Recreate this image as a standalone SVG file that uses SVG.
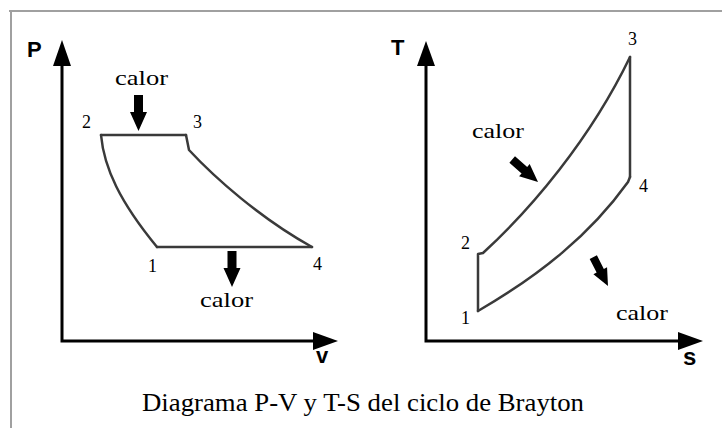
<svg xmlns="http://www.w3.org/2000/svg" width="722" height="428" viewBox="0 0 722 428">
<style>
.frame{stroke:#a0a0a0;stroke-width:2;fill:none}
.axis{stroke:#000;stroke-width:3;fill:none}
.cyc{stroke:#3a3a3a;stroke-width:2.5;fill:none;stroke-linejoin:round;stroke-linecap:round}
.ax{font-family:"Liberation Sans",Arial,sans-serif;font-weight:bold;fill:#000}
.lbl{font-family:"Liberation Serif","Times New Roman",serif;font-size:21px;fill:#000}
.num{font-family:"Liberation Serif","Times New Roman",serif;font-size:18px;fill:#000}
.cap{font-family:"Liberation Serif","Times New Roman",serif;font-size:25px;fill:#000}
.head{fill:#000}
</style>
<defs>
<path id="fat" d="M-4.5,-36 L4.5,-36 L4.5,-19 L8.5,-19 L0,0 L-8.5,-19 L-4.5,-19 Z" fill="#000"/>
</defs>
<rect width="722" height="428" fill="#fff"/>
<path class="frame" d="M9,11 L722,11 M11,11 L11,428"/>
<g id="axes">
<path class="axis" d="M62,64 L62,341 L314,341"/>
<polygon class="head" points="62,40 53,66 71,66"/>
<polygon class="head" points="338,341 313,332 313,350"/>
<text class="ax" x="27" y="57" font-size="22">P</text>
<text class="ax" x="316" y="363" font-size="22">v</text>
<path class="axis" d="M426,64 L426,341 L680,341"/>
<polygon class="head" points="426,41 417,66 435,66"/>
<polygon class="head" points="703,341 678,332 678,350"/>
<text class="ax" x="391" y="55" font-size="22">T</text>
<text class="ax" x="683" y="365" font-size="24">s</text>
</g>
<g id="pv-cycle">
<path class="cyc" d="M101,135 L186,135"/>
<path class="cyc" d="M101,135 C104,168 120,202 157,247"/>
<path class="cyc" d="M157,247 L312,247"/>
<path class="cyc" d="M186,135 L189,150 C215,178 260,218 312,247"/>
<text class="num" x="82" y="128">2</text>
<text class="num" x="193" y="128">3</text>
<text class="num" x="148" y="272">1</text>
<text class="num" x="313" y="270">4</text>
</g>
<g id="ts-cycle">
<path class="cyc" d="M630,57 L630,177"/>
<path class="cyc" d="M630,177 L628,182 C590,235 540,275 478,311"/>
<path class="cyc" d="M478,311 L478,254 L483,253 C530,210 590,140 630,57"/>
<text class="num" x="628" y="45">3</text>
<text class="num" x="639" y="192">4</text>
<text class="num" x="461" y="249">2</text>
<text class="num" x="461" y="324">1</text>
</g>
<g id="heat">
<use href="#fat" transform="translate(138.5,131)"/>
<text class="lbl" x="115" y="85" textLength="53" lengthAdjust="spacingAndGlyphs">calor</text>
<use href="#fat" transform="translate(232,287)"/>
<text class="lbl" x="200" y="307" textLength="53" lengthAdjust="spacingAndGlyphs">calor</text>
<use href="#fat" transform="translate(538,182) rotate(-49) scale(0.95)"/>
<text class="lbl" x="472" y="138" textLength="52" lengthAdjust="spacingAndGlyphs">calor</text>
<use href="#fat" transform="translate(608,286) rotate(-27) scale(0.9)"/>
<text class="lbl" x="616" y="320" textLength="52" lengthAdjust="spacingAndGlyphs">calor</text>
</g>
<text class="cap" x="142" y="411" textLength="442" lengthAdjust="spacingAndGlyphs">Diagrama P-V y T-S del ciclo de Brayton</text>
</svg>
